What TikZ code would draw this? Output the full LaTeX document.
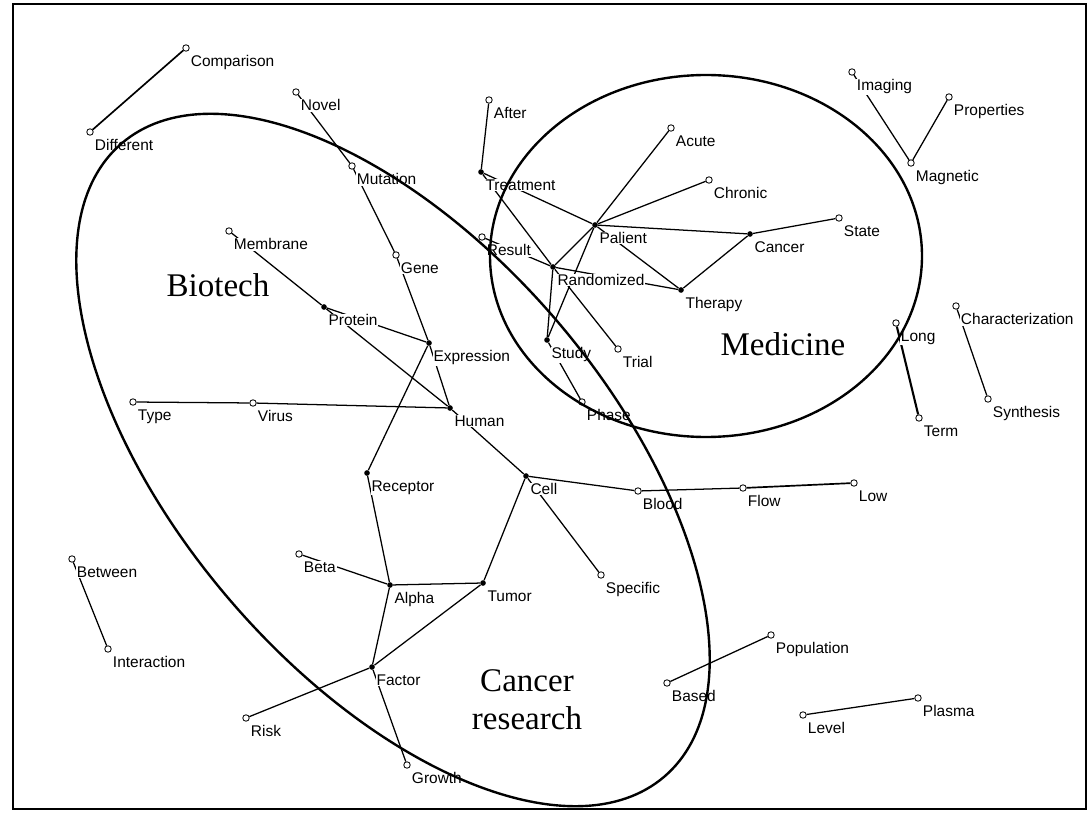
\documentclass[tikz,border=0pt]{standalone}
\usepackage{fontspec}
\setmainfont{Liberation Serif}
\setsansfont{Liberation Sans}
\usetikzlibrary{backgrounds}

\tikzset{
  opn/.style={circle, draw, fill=white, inner sep=0pt, minimum size=4.6pt, line width=0.6pt},
  dot/.style={circle, fill=black, inner sep=0pt, minimum size=4pt},
  lab/.style={fill=white, inner sep=0.5pt, xshift=1pt, yshift=-3pt, font=\sffamily\fontsize{11}{11}\selectfont},
  link/.style={line width=0.9pt},
  area/.style={line width=1.7pt},
  big/.style={font=\fontsize{23.5}{27}\selectfont, align=center}
}

\begin{document}
\begin{tikzpicture}[x=0.025cm, y=-0.025cm]
\useasboundingbox (0,0) rectangle (1088,814);
\draw[line width=1.5pt] (13,4) rectangle (1086,809);

% open terms
\foreach \nm/\px/\py/\txt in {comparison/186/48/Comparison, different/90/132/Different,
  novel/296/92/Novel, mutation/352/166/Mutation, gene/396/255/Gene,
  membrane/229/231/Membrane, type/133/402/Type, virus/253/403/Virus,
  specific/601/575/Specific, blood/638/491/Blood, flow/743/488/Flow, low/854/483/Low,
  beta/299/554/Beta, risk/246/718/Risk, growth/407/765/Growth,
  between/72/559/Between, interaction/108/649/Interaction,
  after/489/100/After, acute/671/128/Acute, chronic/709/180/Chronic,
  result/482/237/Result, state/839/218/State, trial/618/349/Trial, phase/582/402/Phase,
  imaging/852/72/Imaging, properties/949/97/Properties, magnetic/911/163/Magnetic,
  characterization/956/306/Characterization, synthesis/988/399/Synthesis,
  long/896/323/Long, term/919/418/Term, based/667/683/Based,
  population/771/635/Population, level/803/715/Level, plasma/918/698/Plasma}
  \node[opn, label={[lab]below right:\txt}] (\nm) at (\px,\py) {};

% hub terms
\foreach \nm/\px/\py/\txt in {protein/324/307/Protein, expression/429/343/Expression,
  human/450/408/Human, receptor/367/473/Receptor, cell/526/476/Cell,
  alpha/390/585/Alpha, tumor/483/583/Tumor, factor/372/667/Factor,
  treatment/481/172/Treatment, patient/595/225/Palient, randomized/553/267/Randomized,
  cancer/750/234/Cancer, therapy/681/290/Therapy, study/547/340/Study}
  \node[dot, label={[lab]below right:\txt}] (\nm) at (\px,\py) {};

\begin{pgfonlayer}{background}
\foreach \a/\b in {novel/mutation, mutation/gene, gene/expression,
  membrane/protein, protein/expression, protein/human, expression/human,
  expression/receptor, type/virus, virus/human, human/cell, receptor/alpha,
  cell/tumor, cell/specific, cell/blood, blood/flow, beta/alpha,
  alpha/tumor, alpha/factor, tumor/factor, factor/risk, factor/growth,
  between/interaction, after/treatment, treatment/patient, treatment/randomized,
  result/randomized, randomized/patient, randomized/study, study/patient,
  randomized/trial, randomized/therapy, study/phase, patient/acute, patient/chronic,
  patient/cancer, patient/therapy, cancer/therapy, cancer/state, imaging/magnetic,
  magnetic/properties, characterization/synthesis, based/population, level/plasma}
  \draw[link] (\a) -- (\b);
\draw[link, line width=1.2pt] (comparison) -- (different);
\draw[link, line width=1.2pt] (flow) -- (low);
\draw[link, line width=1.5pt] (long) -- (term);
\end{pgfonlayer}

% clusters
\draw[area, rotate around={-49.4:(393,460)}] (393,460) ellipse [x radius=417, y radius=215];
\draw[area] (706,256) ellipse [x radius=216, y radius=181];
\node[big] (biotech) at (218,285) {Biotech};
\node[big] (medicine) at (783,344) {Medicine};
\node[big] (cancerres) at (527,700) {Cancer\\research};
\end{tikzpicture}
\end{document}
